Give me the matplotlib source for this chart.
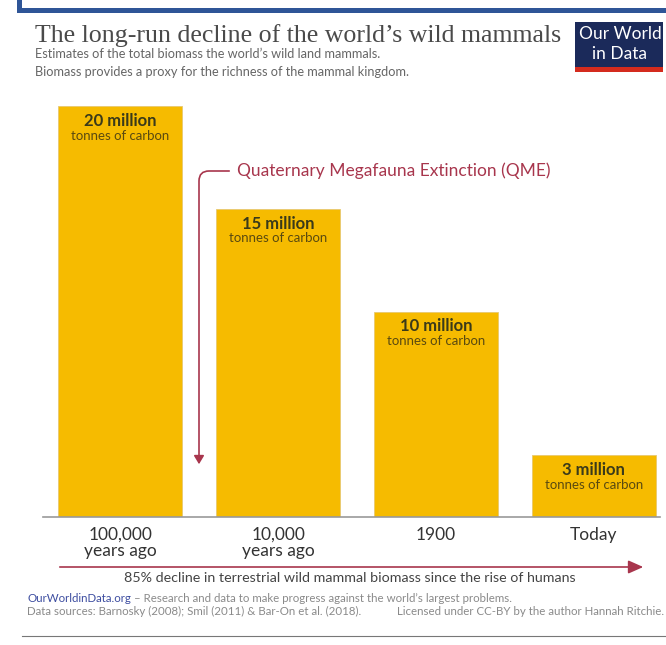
import matplotlib.pyplot as plt
from matplotlib.patches import Rectangle, FancyArrowPatch

# Data
periods = ['100,000\nyears ago', '10,000\nyears ago', '1900', 'Today']
biomass = [20, 15, 10, 3]  # million tonnes of carbon
value_labels = ['20 million', '15 million', '10 million', '3 million']

W, H = 666, 645
fig = plt.figure(figsize=(W / 100, H / 100), dpi=100)
fig.patch.set_facecolor('white')


def px(x, y):
    # pixel coords (from top-left) to figure fraction
    return x / W, 1 - y / H


# Blue frame on top and left
fig.add_artist(Rectangle(px(17, 13), 5 / W, (645 - 13) / H, transform=fig.transFigure,
                         color='#2f5597', lw=0))
fig.add_artist(Rectangle(px(17, 13), (W - 17) / W, 5 / H, transform=fig.transFigure,
                         color='#2f5597', lw=0))
# faint bottom line
fig.add_artist(plt.Line2D([22 / W, 1], [1 - 636 / H] * 2, transform=fig.transFigure,
                          color='#777777', lw=0.8))

# Title and subtitle
fig.text(*px(35, 42), "The long-run decline of the world\u2019s wild mammals",
         family='Liberation Serif', fontsize=18.6, color='#4a4a4a', va='baseline')
fig.text(*px(35, 58), "Estimates of the total biomass the world\u2019s wild land mammals.",
         family='Lato', fontsize=9.2, color='#666666', va='baseline')
fig.text(*px(35, 76), "Biomass provides a proxy for the richness of the mammal kingdom.",
         family='Lato', fontsize=9.2, color='#666666', va='baseline')

# Logo
fig.add_artist(Rectangle(px(575, 72), 88 / W, 50 / H, transform=fig.transFigure,
                         color='#1b2a5a', lw=0))
fig.add_artist(Rectangle(px(575, 72), 88 / W, 5 / H, transform=fig.transFigure,
                         color='#d42b1e', lw=0))
fig.text(*px(620, 34), 'Our World', family='Lato', fontsize=12.5, color='white',
         ha='center', va='center')
fig.text(*px(620, 54), 'in Data', family='Lato', fontsize=12.5, color='white',
         ha='center', va='center')

# Bar chart
ax = fig.add_axes([43 / W, 1 - 517 / H, 617 / W, 411 / H])
x = range(len(biomass))
bars = ax.bar(x, biomass, width=0.785, color='#f6bb00', edgecolor='#e8c870', lw=0.6)
ax.set_ylim(0, 20)
ax.set_xlim(-0.49, 3.42)
ax.set_yticks([])
for s in ['top', 'right', 'left']:
    ax.spines[s].set_visible(False)
ax.spines['bottom'].set_color('#999999')
ax.spines['bottom'].set_linewidth(1.2)
ax.set_xticks(list(x))
ax.set_xticklabels(periods, family='Lato', fontsize=12.5, color='#333333', linespacing=1.0)
ax.tick_params(axis='x', length=0, pad=7)

for bar, lab in zip(bars, value_labels):
    cx = bar.get_x() + bar.get_width() / 2
    top = bar.get_height()
    ax.annotate(lab, (cx, top), xytext=(0, -5), textcoords='offset points',
                ha='center', va='top', family='Lato', fontweight='bold',
                fontsize=12, color='#3a3a1a')
    ax.annotate('tonnes of carbon', (cx, top), xytext=(0, -17), textcoords='offset points',
                ha='center', va='top', family='Lato', fontsize=9.5, color='#5a4a10')

# QME annotation
red = '#a8364d'
fig.text(*px(237, 171), 'Quaternary Megafauna Extinction (QME)', family='Lato',
         fontsize=12.5, color=red, va='center')
fig.add_artist(FancyArrowPatch(px(232, 171), px(199, 467), transform=fig.transFigure,
                               connectionstyle='angle,angleA=180,angleB=90,rad=10',
                               arrowstyle='-|>,head_length=5,head_width=3',
                               color=red, lw=1.2))

# Bottom arrow
fig.add_artist(FancyArrowPatch(px(57, 567), px(646, 567), transform=fig.transFigure,
                               arrowstyle='-|>,head_length=9,head_width=4',
                               color=red, lw=1.2))
fig.text(*px(350, 578), '85% decline in terrestrial wild mammal biomass since the rise of humans',
         family='Lato', fontsize=10.3, color='#444444', ha='center', va='center')

# Footer
fig.text(*px(27, 602), 'OurWorldinData.org', family='Lato', fontsize=8.3, color='#3d4da0',
         va='baseline')
fig.text(*px(131, 602), ' \u2013 Research and data to make progress against the world\u2019s largest problems.',
         family='Lato', fontsize=8.3, color='#8a8a8a', va='baseline')
fig.text(*px(27, 615), 'Data sources: Barnosky (2008); Smil (2011) & Bar-On et al. (2018).',
         family='Lato', fontsize=8.3, color='#8a8a8a', va='baseline')
fig.text(*px(664, 615), 'Licensed under CC-BY by the author Hannah Ritchie.',
         family='Lato', fontsize=8.3, color='#8a8a8a', va='baseline', ha='right')

fig.savefig('out.png', dpi=100)
